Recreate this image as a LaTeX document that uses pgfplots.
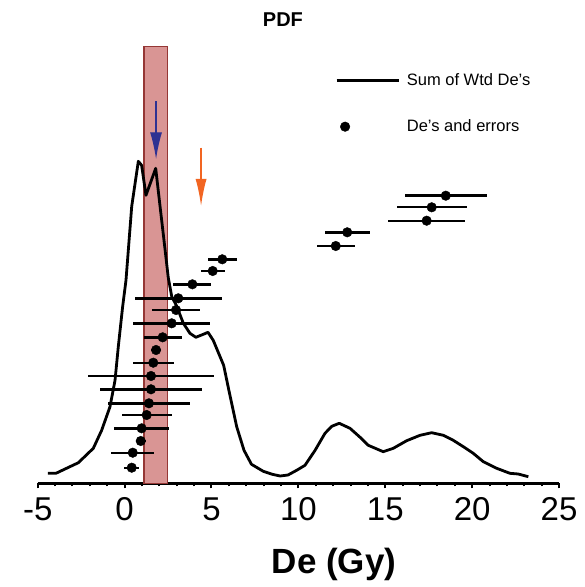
\documentclass[border=0pt]{standalone}
\usepackage{fontspec}
\setmainfont{Liberation Sans}
\usepackage{pgfplots}
\pgfplotsset{compat=1.18}
\usepackage{pgfplotstable}
\usetikzlibrary{arrows.meta}

\definecolor{rectfill}{RGB}{217,149,148}
\definecolor{rectedge}{RGB}{149,55,53}
\definecolor{arrblue}{RGB}{46,49,146}
\definecolor{arrorange}{RGB}{242,101,34}

\pgfplotstableread{
x y
-4.42 10
-3.95 10
-2.66 20.6
-1.80 35
-1.32 53
-0.84 76.6
-0.55 103
-0.36 137
-0.11 177
0.08 203
0.41 277
0.79 322
0.98 318
1.23 288
1.79 315
2.04 277
2.32 235
2.51 206
2.71 187
3.00 177
3.38 160
3.76 150
4.10 146
4.53 149
4.80 151
5.10 143
5.70 118
6.00 93
6.45 56.6
6.87 33
7.30 19
7.98 12
8.50 9
8.95 7.3
9.40 8.3
9.90 13
10.38 18
10.96 33
11.53 50
11.92 57
12.35 60
12.97 55
13.55 46
14.02 38
14.88 31.6
15.46 35
16.23 42.6
17.00 48
17.67 50.6
18.34 48
18.91 43
19.49 36.6
20.06 30
20.64 21.6
21.41 15
22.17 10
22.65 9.3
23.23 6.6
}\pdfcurve

\pgfplotstableread{
x y e
0.41 15.6 0.43
0.47 30.6 1.25
0.93 42.3 0.3
0.98 55 1.58
1.27 68.3 1.44
1.40 80 2.34
1.52 94 2.95
1.52 107.3 3.6
1.65 120.6 1.18
1.81 133.3 0.3
2.19 146 1.1
2.71 160 2.23
2.96 173.3 1.37
3.09 185 2.5
3.90 199 1.1
5.07 212.3 0.7
5.62 224 0.83
12.15 237.3 1.1
12.81 251 1.3
17.38 262.6 2.22
17.67 276 2.02
18.48 287.6 2.35
}\des

\begin{document}
\begin{tikzpicture}
\begin{axis}[
  scale only axis,
  width=521.4pt, height=443pt,
  xmin=-5, xmax=25, ymin=0, ymax=443,
  clip=false,
  axis x line=bottom,
  axis y line=none,
  axis line style={line width=2.6pt, -},
  xtick={-5,0,5,10,15,20,25},
  xticklabels={{-5},0,5,10,15,20,25},
  minor x tick num=4,
  tick align=outside,
  major tick length=5pt,
  minor tick length=3pt,
  every tick/.style={line width=2pt, black},
  xticklabel style={font=\fontsize{33}{36}\selectfont, inner sep=0pt, anchor=north, yshift=-9pt},
  /pgf/number format/assume math mode=true,
  xlabel={De (Gy)},
  xlabel style={font=\bfseries\fontsize{35}{40}\selectfont, at={(axis description cs:0.5,0)}, anchor=base, xshift=35.6pt, yshift=-90pt, inner sep=0pt},
  legend style={at={(axis cs:12.11,410)}, anchor=north west, draw=none, fill=none,
    font=\fontsize{16.5}{19}\selectfont, row sep=33pt, inner sep=0pt,
    nodes={inner sep=0pt}},
  legend cell align=left,
]
\addplot[draw=rectedge, line width=1.5pt, fill=rectfill, forget plot]
  coordinates {(1.12,0) (1.12,436.6) (2.48,436.6) (2.48,0)} -- cycle;
\addplot[black, line width=2.8pt, line join=round,
  legend image code/.code={\draw[line width=2.6pt] (0pt,0pt) -- (62pt,0pt);}]
  table[x=x, y=y] {\pdfcurve};
\addlegendentry{\hspace{7pt}Sum of Wtd De's}
\addplot[only marks, mark=*, mark size=4.8pt, black,
  error bars/.cd, x dir=both, x explicit, error mark=none,
  error bar style={line width=2.4pt, black}]
  table[x=x, y=y, x error=e] {\des};
\addlegendentry{\hspace{7pt}De's and errors}
\addplot[arrblue, line width=1.4pt, -{Latex[length=27pt, width=12pt]}, forget plot]
  coordinates {(1.81,382) (1.81,324)};
\addplot[arrorange, line width=1.4pt, -{Latex[length=27pt, width=11pt]}, forget plot]
  coordinates {(4.40,335.6) (4.40,277.3)};
\node[font=\bfseries\fontsize{20}{24}\selectfont, anchor=base] at (axis cs:9.11,457) {PDF};
\path (axis cs:-7.169,-103.7) (axis cs:26.49,483.3);
\end{axis}
\end{tikzpicture}
\end{document}
